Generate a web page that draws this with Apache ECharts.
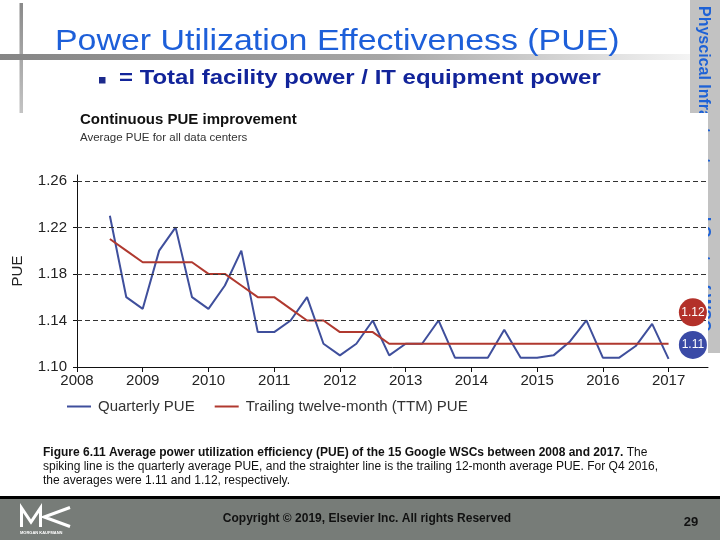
<!DOCTYPE html>
<html><head><meta charset="utf-8">
<script src="https://cdn.jsdelivr.net/npm/echarts@6/dist/echarts.min.js"></script>
<style>html,body{margin:0;padding:0;background:#fff}#c{width:720px;height:540px}</style>
</head><body><div id="c"></div>
<script>
// ---- data ----
const quarterX = [2008.5, 2008.75, 2009, 2009.25, 2009.5, 2009.75, 2010, 2010.25, 2010.5, 2010.75,
  2011, 2011.25, 2011.5, 2011.75, 2012, 2012.25, 2012.5, 2012.75, 2013, 2013.25,
  2013.5, 2013.75, 2014, 2014.25, 2014.5, 2014.75, 2015, 2015.25, 2015.5, 2015.75,
  2016, 2016.25, 2016.5, 2016.75, 2017];
const quarterlyPUE = [1.23, 1.16, 1.15, 1.20, 1.22, 1.16, 1.15, 1.17, 1.20, 1.13,
  1.13, 1.14, 1.16, 1.12, 1.11, 1.12, 1.14, 1.11, 1.12, 1.12,
  1.14, 1.108, 1.108, 1.108, 1.132, 1.108, 1.108, 1.11, 1.122, 1.14,
  1.108, 1.108, 1.118, 1.137, 1.107];
const ttmPUE = [1.21, 1.20, 1.19, 1.19, 1.19, 1.19, 1.18, 1.18, 1.17, 1.16,
  1.16, 1.15, 1.14, 1.14, 1.13, 1.13, 1.13, 1.12, 1.12, 1.12,
  1.12, 1.12, 1.12, 1.12, 1.12, 1.12, 1.12, 1.12, 1.12, 1.12,
  1.12, 1.12, 1.12, 1.12, 1.12];
const yearTicks = [2008, 2009, 2010, 2011, 2012, 2013, 2014, 2015, 2016, 2017];
const pueTicks = [1.10, 1.14, 1.18, 1.22, 1.26];
const gridPUE = [1.14, 1.18, 1.22, 1.26];
const seriesNames = ['Quarterly PUE', 'Trailing twelve-month (TTM) PUE'];

const F = '"Liberation Sans", Arial, sans-serif';
const BLUE = '#3f4f9c', RED = '#b0392f';
const chart = echarts.init(document.getElementById('c'), null, {renderer: 'canvas'});

const option = {
  animation: false,
  backgroundColor: '#fff',
  title: {
    text: 'Continuous PUE improvement',
    subtext: 'Average PUE for all data centers',
    left: 80, top: 112, itemGap: 5, padding: 0,
    textStyle: {fontFamily: F, fontSize: 15, fontWeight: 'bold', color: '#111'},
    subtextStyle: {fontFamily: F, fontSize: 11.5, color: '#333'}
  },
  legend: {
    data: seriesNames, left: 62, top: 394, itemWidth: 24, itemHeight: 2, itemGap: 20, icon: 'rect',
    textStyle: {fontFamily: F, fontSize: 15, color: '#333', padding: [0, 0, 0, 2]}
  },
  grid: {left: 77, right: 12, top: 175, bottom: 173, containLabel: false},
  xAxis: {
    type: 'value', min: 2008, max: 2017.6,
    axisLine: {show: true, lineStyle: {color: '#111', width: 1}},
    axisTick: {show: true, length: 5, customValues: yearTicks, lineStyle: {color: '#111'}},
    axisLabel: {customValues: yearTicks, formatter: v => String(v), fontFamily: F, fontSize: 15, color: '#222', margin: 6},
    splitLine: {show: false}
  },
  yAxis: {
    type: 'value', min: 1.10, max: 1.265,
    name: 'PUE', nameLocation: 'middle', nameGap: 52,
    nameTextStyle: {fontFamily: F, fontSize: 15, color: '#222'},
    axisLine: {show: true, lineStyle: {color: '#111', width: 1}},
    axisTick: {show: true, length: 4, customValues: pueTicks, lineStyle: {color: '#111'}},
    axisLabel: {customValues: pueTicks, formatter: v => v.toFixed(2), fontFamily: F, fontSize: 15, color: '#222', margin: 10},
    splitLine: {show: false}
  },
  series: [
    {
      name: 'grid', type: 'line', data: [], z: 1, silent: true,
      markLine: {
        silent: true, symbol: ['none', 'none'], label: {show: false},
        lineStyle: {type: [5, 3], color: '#333', width: 1},
        data: gridPUE.map(v => ({yAxis: v}))
      }
    },
    {
      name: seriesNames[0], type: 'line', z: 3,
      data: quarterX.map((x, i) => [x, quarterlyPUE[i]]),
      showSymbol: false, symbol: 'none',
      lineStyle: {color: BLUE, width: 2}, itemStyle: {color: BLUE},
      markPoint: {
        symbol: 'circle', symbolSize: 28, itemStyle: {color: '#3a4aa6'},
        label: {show: true, position: 'inside', color: '#fff', fontFamily: F, fontSize: 12},
        data: [{coord: [2017.37, 1.119], value: quarterlyPUE[quarterlyPUE.length - 1].toFixed(2)}]
      }
    },
    {
      name: seriesNames[1], type: 'line', z: 4,
      data: quarterX.map((x, i) => [x, ttmPUE[i]]),
      showSymbol: false, symbol: 'none',
      lineStyle: {color: RED, width: 2}, itemStyle: {color: RED},
      markPoint: {
        symbol: 'circle', symbolSize: 28, itemStyle: {color: '#b3312a'},
        label: {show: true, position: 'inside', color: '#fff', fontFamily: F, fontSize: 12},
        data: [{coord: [2017.37, 1.147], value: ttmPUE[ttmPUE.length - 1].toFixed(2)}]
      }
    }
  ],
  graphic: [
    // slide decorations
    {type: 'rect', z: -10, shape: {x: 690, y: 0, width: 30, height: 113}, style: {fill: '#c2c2c2'}},
    {type: 'rect', z: -10, shape: {x: 708, y: 113, width: 12, height: 240}, style: {fill: '#c2c2c2'}},
    {type: 'text', z: -9, x: 703, y: 6, rotation: -Math.PI / 2,
      style: {text: 'Physcical Infrastructure and Costs of WSC', fill: '#1e62d6', font: 'bold 16px ' + F, align: 'left', verticalAlign: 'middle'}},
    {type: 'rect', z: -8, shape: {x: 0, y: 113, width: 708, height: 300}, style: {fill: '#fff'}},
    {type: 'rect', z: -7, shape: {x: 19.5, y: 3, width: 3.5, height: 110},
      style: {fill: new echarts.graphic.LinearGradient(0, 0, 0, 1, [{offset: 0, color: '#8a8a8a'}, {offset: 1, color: '#c4c4c4'}])}},
    {type: 'rect', z: -7, shape: {x: 0, y: 54, width: 690, height: 6},
      style: {fill: new echarts.graphic.LinearGradient(0, 0, 1, 0, [{offset: 0, color: '#858585'}, {offset: 0.55, color: '#a6a6a6'}, {offset: 1, color: '#f4f4f4'}])}},
    {type: 'text', z: 0, x: 55, y: 42, scaleX: 1.13,
      style: {text: 'Power Utilization Effectiveness (PUE)', fill: '#1d5fd9', font: '30px ' + F, align: 'left', verticalAlign: 'middle'}},
    {type: 'rect', z: 0, shape: {x: 99, y: 77, width: 6.5, height: 6.5}, style: {fill: '#1c2a8c'}},
    {type: 'text', z: 0, x: 119, y: 78, scaleX: 1.14,
      style: {text: '= Total facility power / IT equipment power', fill: '#12249a', font: 'bold 21px ' + F, align: 'left', verticalAlign: 'middle'}},
    // caption
    {type: 'text', z: 0, x: 43, y: 453,
      style: {
        text: '{b|Figure 6.11 Average power utilization efficiency (PUE) of the 15 Google WSCs between 2008 and 2017.}{r| The}',
        verticalAlign: 'middle', align: 'left',
        rich: {b: {font: 'bold 12px ' + F, fill: '#111'}, r: {font: '12px ' + F, fill: '#111'}}
      }},
    {type: 'text', z: 0, x: 43, y: 467,
      style: {text: 'spiking line is the quarterly average PUE, and the straighter line is the trailing 12-month average PUE. For Q4 2016,', fill: '#111', font: '12px ' + F, align: 'left', verticalAlign: 'middle'}},
    {type: 'text', z: 0, x: 43, y: 481,
      style: {text: 'the averages were 1.11 and 1.12, respectively.', fill: '#111', font: '12px ' + F, align: 'left', verticalAlign: 'middle'}},
    // footer
    {type: 'rect', z: -5, shape: {x: 0, y: 496, width: 720, height: 3}, style: {fill: '#000'}},
    {type: 'rect', z: -5, shape: {x: 0, y: 499, width: 720, height: 41}, style: {fill: '#777c78'}},
    {type: 'polyline', z: 0, shape: {points: [[21.5, 527], [21.5, 508], [31, 522], [40.5, 508], [40.5, 527]]}, style: {stroke: '#fff', lineWidth: 3, fill: null}},
    {type: 'polyline', z: 0, shape: {points: [[70, 507.5], [44, 517], [70, 526.5]]}, style: {stroke: '#fff', lineWidth: 3, fill: null}},
    {type: 'text', z: 0, x: 20, y: 532.5,
      style: {text: 'MORGAN KAUFMANN', fill: '#fff', font: 'bold 4px ' + F, align: 'left', verticalAlign: 'middle'}},
    {type: 'text', z: 0, x: 367, y: 519,
      style: {text: 'Copyright © 2019, Elsevier Inc. All rights Reserved', fill: '#111', font: 'bold 12px ' + F, align: 'center', verticalAlign: 'middle'}},
    {type: 'text', z: 0, x: 691, y: 522,
      style: {text: '29', fill: '#111', font: 'bold 13px ' + F, align: 'center', verticalAlign: 'middle'}}
  ]
};
chart.setOption(option);
</script>
</body></html>
